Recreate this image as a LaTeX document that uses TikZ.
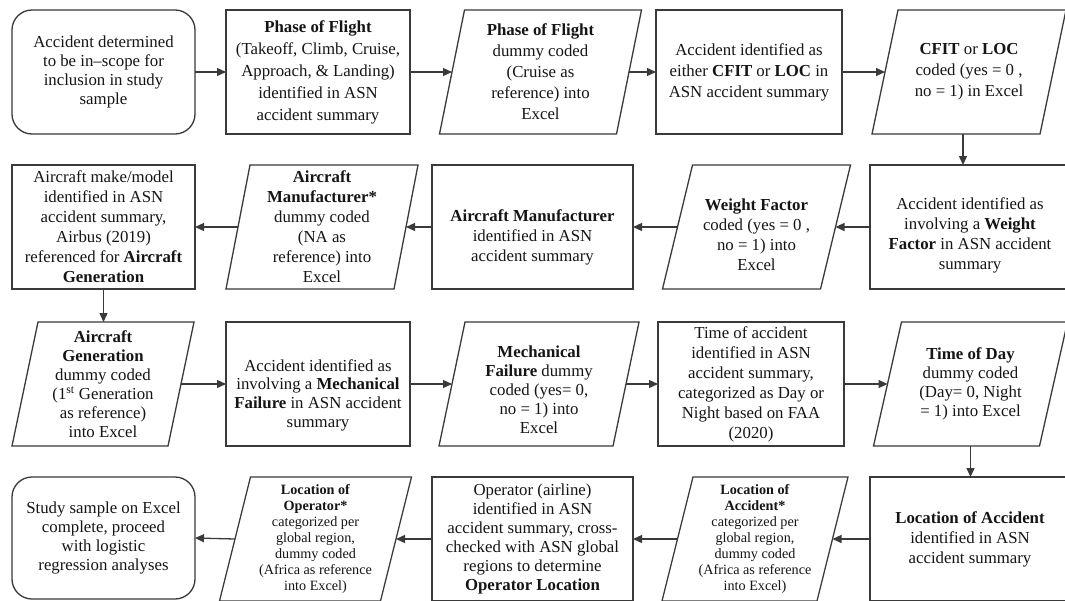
\documentclass[tikz,border=0pt]{standalone}
\usepackage{fontspec}
\setmainfont{Liberation Serif}
\usetikzlibrary{arrows.meta}
\definecolor{ln}{HTML}{3A3A3A}
\definecolor{tx}{HTML}{151515}
\newcommand{\dn}[1]{\rule{0pt}{#1pt}}
\begin{document}
\begin{tikzpicture}[x=1pt,y=-1pt,
  base/.style={inner sep=0pt, outer sep=0pt, minimum height=124pt, align=center, text=tx, font=\fontsize{16.8}{20}\selectfont},
  boxs/.style={base, draw=ln, line width=1.3pt, rectangle},
  term/.style={boxs, rounded corners=20pt},
  para/.style={base},
  sp/.style={font=\fontsize{16.8}{#1}\selectfont},
  small/.style={font=\fontsize{14.2}{15.9}\selectfont},
  arr/.style={draw=ln, line width=1.3pt, -{Triangle[length=9pt,width=8pt]}},
  shp/.style={draw=ln, line width=1.3pt}
]
\useasboundingbox (0,0) rectangle (1065,600);
\clip (0,0) rectangle (1065,600);
\fill[white] (0,0) rectangle (1065,600);

% Row 1
\node[term, minimum width=183pt, sp=19] (s1) at (103.5,72) {Accident determined\\to be in–scope for\\inclusion in study\\sample};
\node[boxs, minimum width=184pt, sp=22] (b1) at (318,72) {\textbf{Phase of Flight}\\(Takeoff, Climb, Cruise,\\Approach, \& Landing)\\identified in ASN\\accident summary};
\node[para, minimum width=177pt, sp=21] (p1) at (540.5,72) {\textbf{Phase of Flight}\\dummy coded\\(Cruise as\\reference) into\\Excel};
\node[boxs, minimum width=186pt, sp=21] (b2) at (749,72) {Accident identified as\\either \textbf{CFIT} or \textbf{LOC} in\\ASN accident summary};
\node[para, minimum width=168pt, sp=21] (p2) at (969,72) {\textbf{CFIT} or \textbf{LOC}\\coded (yes = 0 ,\\no = 1) in Excel};

% Row 2
\node[boxs, minimum width=200pt, sp=20] (w5) at (970,227) {\dn{28}Accident identified as\\involving a \textbf{Weight}\\\textbf{Factor} in ASN accident\\summary};
\node[para, minimum width=158pt, sp=20] (w4) at (756.5,227) {\dn{28}\textbf{Weight Factor}\\coded (yes = 0 ,\\no = 1) into\\Excel};
\node[boxs, minimum width=201pt, sp=20] (w3) at (532.5,227) {\dn{32}\textbf{Aircraft Manufacturer}\\identified in ASN\\accident summary};
\node[para, minimum width=168pt, sp=20] (w2) at (322,227) {\textbf{Aircraft}\\\textbf{Manufacturer*}\\dummy coded\\(NA as\\reference) into\\Excel};
\node[boxs, minimum width=183pt, sp=20] (w1) at (103.5,227) {Aircraft make/model\\identified in ASN\\accident summary,\\Airbus (2019)\\referenced for \textbf{Aircraft}\\\textbf{Generation}};

% Row 3
\node[para, minimum width=156pt, sp=19] (r1) at (103,384) {\textbf{Aircraft}\\\textbf{Generation}\\dummy coded\\(1\textsuperscript{st} Generation\\as reference)\\into Excel};
\node[boxs, minimum width=184pt, sp=18.6] (r2) at (318,384) {\dn{34}Accident identified as\\involving a \textbf{Mechanical}\\\textbf{Failure} in ASN accident\\summary};
\node[para, minimum width=174pt, sp=19] (r3) at (539,384) {\dn{24}\textbf{Mechanical}\\\textbf{Failure} dummy\\coded (yes= 0,\\no = 1) into\\Excel};
\node[boxs, minimum width=186pt, sp=20] (r4) at (751,384) {Time of accident\\identified in ASN\\accident summary,\\categorized as Day or\\Night based on FAA\\(2020)};
\node[para, minimum width=166pt, sp=19] (r5) at (970.5,384) {\textbf{Time of Day}\\dummy coded\\(Day= 0, Night\\= 1) into Excel};

% Row 4
\node[boxs, minimum width=200pt, sp=20] (q5) at (970,539) {\textbf{Location of Accident}\\identified in ASN\\accident summary};
\node[para, minimum width=155pt, small] (q4) at (755,539) {\textbf{Location of}\\\textbf{Accident*}\\categorized per\\global region,\\dummy coded\\(Africa as reference\\into Excel)};
\node[boxs, minimum width=201pt, sp=19] (q3) at (532.5,539) {Operator (airline)\\identified in ASN\\accident summary, cross-\\checked with ASN global\\regions to determine\\\textbf{Operator Location}};
\node[para, minimum width=161pt, small] (q2) at (315.5,539) {\textbf{Location of}\\\textbf{Operator*}\\categorized per\\global region,\\dummy coded\\(Africa as reference\\into Excel)};
\node[term, minimum width=183pt, minimum height=122pt, sp=19] (q1) at (103.5,538) {Study sample on Excel\\complete, proceed\\with logistic\\regression analyses};

% parallelogram outlines
\foreach \n/\s in {p1/25, p2/26, w2/24, w4/30, r1/26, r3/26, r5/28, q2/31, q4/31}{
  \draw[shp] ([xshift=-\s/2]\n.south west) -- ([xshift=\s/2]\n.north west) -- ([xshift=\s/2]\n.north east) -- ([xshift=-\s/2]\n.south east) -- cycle;
}

% connectors
\draw[arr] (s1.east) -- (b1.west);
\draw[arr] (b1.east) -- (p1.west);
\draw[arr] (p1.east) -- (b2.west);
\draw[arr] (b2.east) -- (p2.west);
\draw[arr] ([xshift=-6pt]p2.south) -- ([xshift=-6pt]p2.south |- w5.north);
\draw[arr] (w5.west) -- (w4.east);
\draw[arr] (w4.west) -- (w3.east);
\draw[arr] (w3.west) -- (w2.east);
\draw[arr] (w2.west) -- (w1.east);
\draw[arr] (w1.south) -- (w1.south |- r1.north);
\draw[arr] (r1.east) -- (r2.west);
\draw[arr] (r2.east) -- (r3.west);
\draw[arr] (r3.east) -- (r4.west);
\draw[arr] (r4.east) -- (r5.west);
\draw[arr] (r5.south) -- (r5.south |- q5.north);
\draw[arr] (q5.west) -- (q4.east);
\draw[arr] (q4.west) -- (q3.east);
\draw[arr] (q3.west) -- (q2.east);
\draw[arr] (q2.west) -- (q1.east);
\end{tikzpicture}
\end{document}
